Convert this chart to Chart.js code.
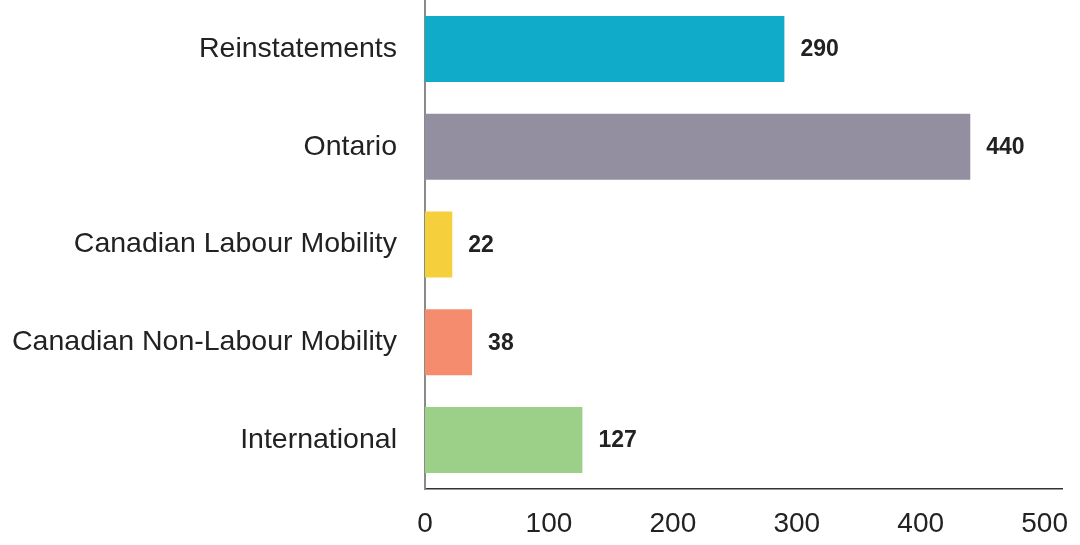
<!DOCTYPE html>
<html>
<head>
<meta charset="utf-8">
<script src="https://cdn.jsdelivr.net/npm/chart.js@4"></script>
<style>
  html, body { margin: 0; padding: 0; background: #fff; }
  #wrap { width: 1080px; height: 545px; }
</style>
</head>
<body>
<div id="wrap"><canvas id="grafico" width="1080" height="545"></canvas></div>
<script>
// dados do gráfico
const categorias = ["Reinstatements", "Ontario", "Canadian Labour Mobility", "Canadian Non-Labour Mobility", "International"];
const valores = [290, 440, 22, 38, 127];
const cores = ["#10abc8", "#948fa0", "#f6cf3d", "#f58c6d", "#9ccf87"];
const ticksX = [0, 100, 200, 300, 400, 500];

// rótulos em negrito à direita de cada barra
const rotulosBarras = {
  id: "rotulosBarras",
  afterDatasetsDraw(chart) {
    const ctx = chart.ctx;
    const meta = chart.getDatasetMeta(0);
    ctx.save();
    ctx.font = "bold 23px 'Liberation Sans', Arial, sans-serif";
    ctx.fillStyle = "#222";
    ctx.textAlign = "left";
    ctx.textBaseline = "middle";
    meta.data.forEach((bar, i) => {
      ctx.fillText(String(valores[i]), bar.x + 16, bar.y + 1);
    });
    ctx.restore();
  }
};

new Chart(document.getElementById("grafico"), {
  type: "bar",
  data: {
    labels: categorias,
    datasets: [{
      data: valores,
      backgroundColor: cores,
      borderWidth: 0,
      categoryPercentage: 1,
      barPercentage: 0.675
    }]
  },
  options: {
    indexAxis: "y",
    responsive: false,
    animation: false,
    layout: { padding: { top: 0, right: 18, bottom: 0, left: 0 } },
    plugins: {
      legend: { display: false },
      tooltip: { enabled: false }
    },
    scales: {
      x: {
        min: 0,
        max: 514,
        afterBuildTicks: (scale) => { scale.ticks = ticksX.map(v => ({ value: v })); },
        afterFit: (scale) => {
          scale.height = 56;
          scale.paddingLeft = 0;
          scale.paddingRight = 0;
        },
        grid: { display: false, drawTicks: false },
        border: { display: true, color: "#333", width: 1.5 },
        ticks: {
          padding: 18,
          color: "#222",
          font: { family: "'Liberation Sans', Arial, sans-serif", size: 28 }
        }
      },
      y: {
        afterFit: (scale) => {
          scale.width = 425;
          scale.paddingTop = 0;
          scale.paddingBottom = 0;
        },
        grid: { display: false, drawTicks: false },
        border: { display: true, color: "#8a8a8a", width: 2 },
        ticks: {
          padding: 28,
          color: "#222",
          font: { family: "'Liberation Sans', Arial, sans-serif", size: 28.5 }
        }
      }
    }
  },
  plugins: [rotulosBarras]
});
</script>
</body>
</html>
